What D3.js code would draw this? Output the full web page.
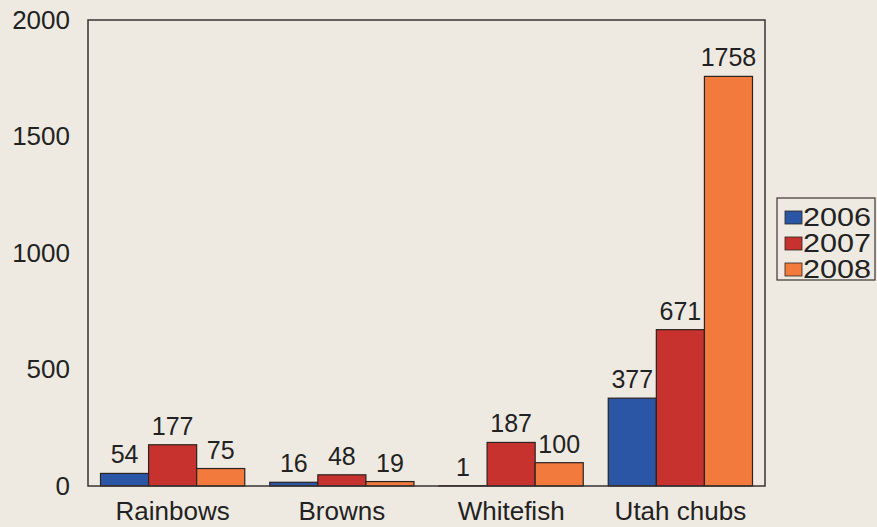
<!DOCTYPE html>
<html><head><meta charset="utf-8">
<script src="https://cdn.jsdelivr.net/npm/d3@7"></script>
<style>body{margin:0;background:#efeae1;}svg{display:block;}</style>
</head><body>
<script>
const categories = ["Rainbows","Browns","Whitefish","Utah chubs"];
const seriesNames = ["2006","2007","2008"];
const values2006 = [54,16,1,377];
const values2007 = [177,48,187,671];
const values2008 = [75,19,100,1758];
const yTicks = [0,500,1000,1500,2000];
const colors = ["#2b56a6","#c8322e","#f27a3c"];

const W=877,H=527;
const m={l:88,t:20,r:765,b:486};
const svg=d3.select("body").append("svg").attr("width",W).attr("height",H);
svg.append("rect").attr("width",W).attr("height",H).attr("fill","#efeae1");
const font="Liberation Sans, Arial, sans-serif";

const x0=d3.scaleBand().domain(categories).range([m.l,m.r]).paddingInner(0).paddingOuter(0);
const x1=d3.scaleBand().domain(seriesNames).range([0,x0.bandwidth()]).paddingOuter(0.26).paddingInner(0);
const y=d3.scaleLinear().domain([0,2000]).range([m.b,m.t]);

const series=[values2006,values2007,values2008];
categories.forEach((c,i)=>{
  seriesNames.forEach((s,j)=>{
    const v=series[j][i];
    const bx=x0(c)+x1(s);
    svg.append("rect").attr("x",bx).attr("y",y(v)).attr("width",x1.bandwidth()).attr("height",m.b-y(v))
      .attr("fill",colors[j]).attr("stroke","#2a2320").attr("stroke-width",1.2);
    svg.append("text").attr("x",bx+x1.bandwidth()/2).attr("y",y(v)-10).attr("text-anchor","middle")
      .attr("font-family",font).attr("font-size",25).attr("fill","#222").text(v);
  });
});

// frame
svg.append("rect").attr("x",m.l).attr("y",m.t).attr("width",m.r-m.l).attr("height",m.b-m.t)
  .attr("fill","none").attr("stroke","#3a3330").attr("stroke-width",1.5);

const yAxis=svg.append("g").attr("transform",`translate(${m.l},0)`)
  .call(d3.axisLeft(y).tickValues(yTicks).tickFormat(d3.format("d")).tickSize(0).tickPadding(18));
yAxis.select(".domain").remove();
yAxis.selectAll("text").attr("font-family",font).attr("font-size",26).attr("fill","#222");

const xAxis=svg.append("g").attr("transform",`translate(0,${m.b})`)
  .call(d3.axisBottom(x0).tickSize(0).tickPadding(16));
xAxis.select(".domain").remove();
xAxis.selectAll("text").attr("font-family",font).attr("font-size",26).attr("fill","#222");

// legend
const lg=svg.append("g");
lg.append("rect").attr("x",777).attr("y",198).attr("width",98).attr("height",82)
  .attr("fill","none").attr("stroke","#3a3330").attr("stroke-width",1.2);
seriesNames.forEach((s,j)=>{
  const yy=217+j*26;
  lg.append("rect").attr("x",785).attr("y",yy-6).attr("width",17).attr("height",13)
    .attr("fill",colors[j]).attr("stroke","#2a2320").attr("stroke-width",0.8);
  lg.append("text").attr("x",803).attr("y",yy+9).attr("font-family",font).attr("font-size",25)
    .attr("textLength",68).attr("lengthAdjust","spacingAndGlyphs")
    .attr("fill","#222").text(s);
});
</script>
</body></html>
